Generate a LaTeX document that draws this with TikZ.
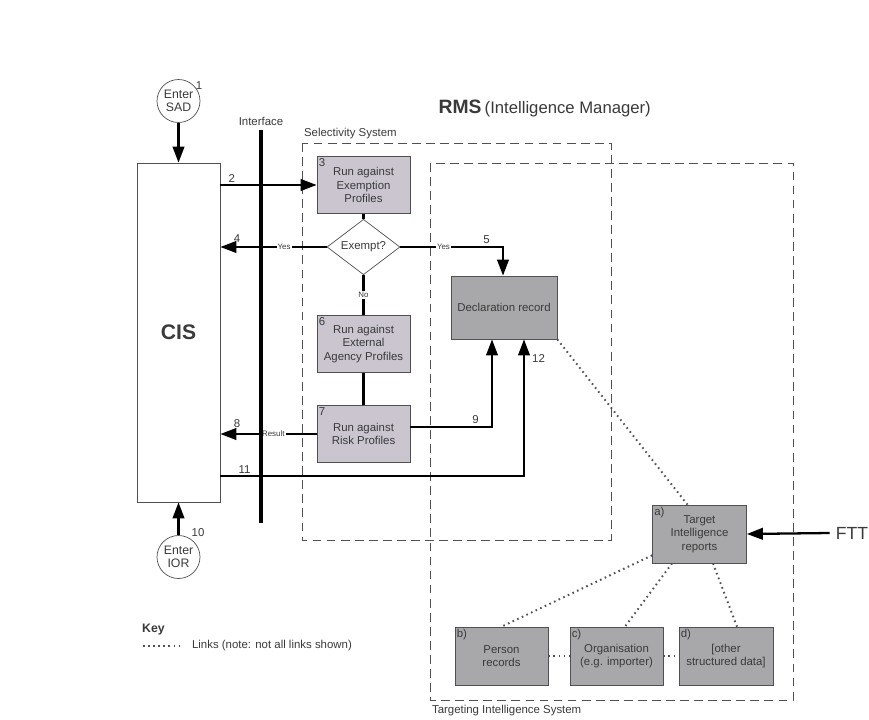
\documentclass[tikz,border=0pt]{standalone}
\usepackage{fontspec}
\setmainfont{Liberation Sans}
\usetikzlibrary{positioning,arrows.meta,shapes.geometric}

\definecolor{procgray}{HTML}{CAC5CF}
\definecolor{recgray}{HTML}{A8A8AA}
\definecolor{edgegray}{HTML}{505050}
\definecolor{txtgray}{HTML}{3A3A3A}

\tikzset{
  procbox/.style={draw=edgegray,fill=procgray,minimum width=1.86cm,minimum height=1.14cm,
    align=center,inner sep=1pt,text=txtgray},
  recbox/.style={draw=edgegray,fill=recgray,minimum width=1.88cm,minimum height=1.16cm,
    align=center,inner sep=1pt,text=txtgray},
  entry/.style={circle,draw=edgegray,fill=white,minimum size=0.86cm,inner sep=0pt,
    align=center,text=txtgray,font=\fontsize{7}{7.6}\selectfont},
  flow/.style={line width=1.3pt,-{Triangle[length=0.32cm,width=0.23cm]}},
  plain/.style={line width=1.3pt},
  sysbox/.style={draw=edgegray,dash pattern=on 5pt off 3pt,line width=0.55pt},
  link/.style={draw=edgegray,line width=1.1pt,dash pattern=on 0.9pt off 2pt},
  num/.style={text=txtgray,font=\fontsize{6.5}{7}\selectfont,inner sep=1pt},
  tag/.style={fill=white,text=txtgray,font=\fontsize{4.5}{5}\selectfont,inner sep=0.6pt},
}

\begin{document}
\begin{tikzpicture}[x=0.02cm,y=-0.02cm,font=\fontsize{6.5}{7.6}\selectfont]
  \useasboundingbox[fill=white] (0,0) rectangle (869,720);

  % system boundaries
  \draw[sysbox] (302,143) rectangle (611,540);
  \draw[sysbox] (430,163) rectangle (793,700);
  \node[num,anchor=south west] (selname) at (302,141) {Selectivity System};
  \node[num,anchor=north west] (tisname) at (430,703) {Targeting Intelligence System};
  \node[text=txtgray,anchor=east] (rms) at (657,108)
    {{\fontsize{11}{13}\selectfont\bfseries RMS} {\fontsize{9.5}{11}\selectfont(Intelligence Manager)}};

  % CIS side
  \node[draw=edgegray,fill=white,minimum width=1.66cm,minimum height=6.78cm,
    text=txtgray,font=\fontsize{12}{14}\selectfont\bfseries] (cis) at (178.5,332.5) {CIS};
  \node[entry] (sad) at (178.5,101) {Enter\\SAD};
  \node[num] (n1) at (199,86) {1};
  \node[entry] (ior) at (178.5,557) {Enter\\IOR};
  \node[num] (n10) at (198,533) {10};
  \coordinate (ift) at (261,130);
  \coordinate (ifb) at (261,523);
  \node[num,anchor=south] (ifname) at (261,128) {Interface};

  % selectivity steps
  \node[procbox] (exm) at (363.5,185) {Run against\\Exemption\\Profiles};
  \node[diamond,draw=edgegray,fill=white,minimum width=1.46cm,minimum height=0.84cm,
    inner sep=0pt,text=txtgray] (exempt) at (363.5,247) {Exempt?};
  \node[procbox] (ext) at (363.5,344) {Run against\\External\\Agency Profiles};
  \node[procbox] (risk) at (363.5,434) {Run against\\Risk Profiles};
  \node[num,anchor=north west] at (exm.north west) {3};
  \node[num,anchor=north west] at (ext.north west) {6};
  \node[num,anchor=north west] at (risk.north west) {7};

  % records
  \node[recbox,minimum width=2.12cm,minimum height=1.26cm] (decl) at (504,307.5) {Declaration record};
  \node[recbox] (tir) at (699.5,534) {Target\\Intelligence\\reports};
  \node[recbox,minimum width=1.86cm] (per) at (501.5,656) {Person\\records};
  \node[recbox,minimum width=1.86cm] (org) at (616.5,656) {Organisation\\(e.g. importer)};
  \node[recbox,minimum width=1.88cm] (oth) at (726,656) {[other\\structured data]};
  \foreach \b/\l in {tir/a), per/b), org/c), oth/d)}
    \node[num,anchor=north west] at (\b.north west) {\l};
  \node[text=txtgray,font=\fontsize{10}{12}\selectfont] (ftt) at (852,533) {FTT};

  % flows
  \draw[flow] (sad.south) -- (sad.south |- cis.north);
  \draw[flow] (ior.north) -- (ior.north |- cis.south);
  \draw[flow] (cis.east |- exm.west) -- node[num,above,pos=0.12] {2} (exm.west);
  \draw[plain] (exm.south) -- (exempt.north);
  \draw[flow] (exempt.west) -- node[tag,pos=0.4] {Yes} (cis.east |- exempt.west)
    node[num,above right=1pt and 6pt] {4};
  \draw[flow] (exempt.east) -| node[tag,pos=0.21] {Yes} node[num,above,pos=0.42] {5}
    ([xshift=-0.02cm]decl.north);
  \draw[plain] (exempt.south) -- node[tag] {No} (ext.north);
  \draw[plain] (ext.south) -- (risk.north);
  \draw[flow] (risk.west) -- node[tag,pos=0.45] {Result} (cis.east |- risk.west)
    node[num,above right=2pt and 6pt] {8};
  \draw[flow] ([yshift=0.14cm]risk.east) -| node[num,above,pos=0.4] {9}
    ([xshift=-0.24cm]decl.south);
  \draw[flow] ([yshift=-2.87cm]cis.east) -| node[num,above,pos=0.04] {11}
    node[num,pos=0.93,right=3pt] {12} ([xshift=0.4cm]decl.south);
  \draw[line width=2.2pt] (ift) -- (ifb);
  \draw[flow] (ftt.west) -- (tir.east);

  % links
  \draw[link] (decl.south east) -- ([xshift=-0.24cm]tir.north);
  \draw[link] ([yshift=0.16cm]tir.south west) -- (per.north);
  \draw[link] ([xshift=-0.55cm]tir.south) -- ([xshift=0.17cm]org.north);
  \draw[link] ([xshift=0.27cm]tir.south) -- ([xshift=0.22cm]oth.north);
  \draw[link] (per.east) -- (org.west);
  \draw[link] (org.east) -- (oth.west);

  % key
  \node[text=txtgray,font=\fontsize{7}{8}\selectfont\bfseries,anchor=west] (key) at (136,630) {Key};
  \coordinate (keya) at (143,646);
  \coordinate (keyb) at (180,646);
  \draw[link,line width=0.7pt] (keya) -- (keyb);
  \node[num,anchor=west] (keytxt) at (190,646) {Links (note: not all links shown)};
\end{tikzpicture}
\end{document}
